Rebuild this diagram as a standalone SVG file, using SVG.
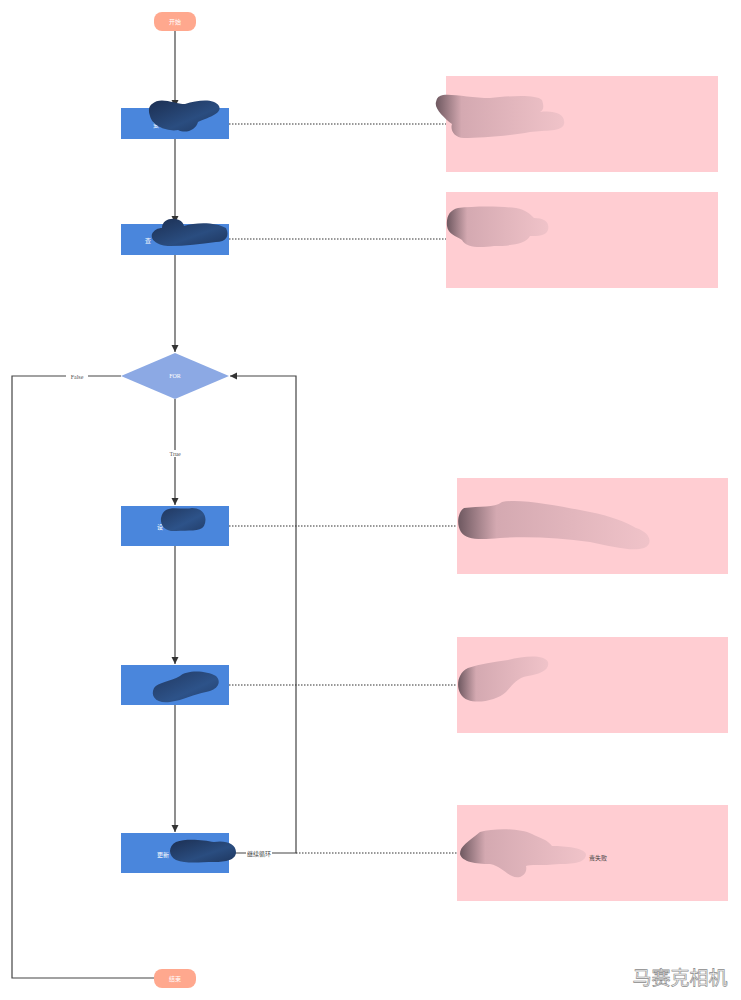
<svg xmlns="http://www.w3.org/2000/svg" width="741" height="1000" viewBox="0 0 741 1000">
<defs>
<marker id="arr" markerWidth="8" markerHeight="8" refX="7" refY="4" orient="auto" markerUnits="userSpaceOnUse">
<path d="M0,0.5 L7,4 L0,7.5 Z" fill="#333"/>
</marker>
<linearGradient id="gDark" x1="0" y1="0" x2="1" y2="1">
<stop offset="0" stop-color="#1c2f52"/>
<stop offset="0.6" stop-color="#2a4d80"/>
<stop offset="1" stop-color="#1e365e"/>
</linearGradient>
<linearGradient id="gPink" x1="0" y1="0" x2="1" y2="0">
<stop offset="0" stop-color="#6e5860"/>
<stop offset="0.2" stop-color="#d4a9b1"/>
<stop offset="1" stop-color="#f0c3c9"/>
</linearGradient>
<style>
.term{fill:#FFA88E;}
.proc{fill:#4A86DC;}
.dec{fill:#8CA9E4;}
.note{fill:#FFCDD2;}
.wt{font-family:"Noto Sans CJK SC","Liberation Sans",sans-serif;font-size:6px;fill:#ffffff;text-anchor:middle;}
.lt{font-family:"Liberation Serif",serif;font-size:6px;fill:#555;text-anchor:middle;}
.nt{font-family:"Noto Sans CJK SC","Liberation Sans",sans-serif;font-size:6px;fill:#444;}
.edge{fill:none;stroke:#444;stroke-width:1.2;}
.dot{fill:none;stroke:#333;stroke-width:1.1;stroke-dasharray:1.5,1.5;}
.blobD{fill:url(#gDark);}
.blobP{fill:url(#gPink);}
</style>
</defs>
<rect width="741" height="1000" fill="#ffffff"/>

<g id="connectors">
<path class="edge" d="M175,31 L175,107" marker-end="url(#arr)"/>
<path class="edge" d="M175,139 L175,223" marker-end="url(#arr)"/>
<path class="edge" d="M175,255 L175,352" marker-end="url(#arr)"/>
<path class="edge" d="M175,399 L175,505" marker-end="url(#arr)"/>
<path class="edge" d="M175,546 L175,664" marker-end="url(#arr)"/>
<path class="edge" d="M175,705 L175,832" marker-end="url(#arr)"/>
<path class="edge" d="M229,853 L296,853 L296,376 L230,376" marker-end="url(#arr)"/>
<path class="edge" d="M121,376 L12,376 L12,978 L154,978"/>
<path class="dot" d="M229,124 L446,124"/>
<path class="dot" d="M229,239 L446,239"/>
<path class="dot" d="M229,526 L457,526"/>
<path class="dot" d="M229,685 L457,685"/>
<path class="dot" d="M296,853 L457,853"/>
<rect x="66" y="373" width="22" height="7" fill="#ffffff"/>
<text class="lt" x="77" y="379">False</text>
<rect x="166" y="450" width="18" height="7" fill="#ffffff"/>
<text class="lt" x="175" y="456">True</text>
<rect x="246" y="850" width="26" height="7" fill="#ffffff"/>
<text class="nt" x="259" y="856" style="text-anchor:middle">继续循环</text>
</g>

<g id="start">
<rect class="term" x="154" y="12" width="42" height="19" rx="8"/>
<text class="wt" x="175" y="24">开始</text>
</g>

<g id="step1">
<rect class="proc" x="121" y="108" width="108" height="31"/>
<text class="wt" x="156" y="127">变</text>
<path class="blobD" d="M152,104 C160,96 175,104 185,104 C198,100 214,98 219,106 C223,114 206,118 198,122 C196,130 186,134 178,130 C168,132 152,126 150,116 C148,110 149,106 152,104 Z"/>
</g>

<g id="step2">
<rect class="proc" x="121" y="224" width="108" height="31"/>
<text class="wt" x="148" y="243">查</text>
<path class="blobD" d="M162,228 C162,216 182,216 184,226 C196,222 216,222 226,228 C230,236 226,242 216,242 C200,244 186,246 170,246 C158,246 150,240 152,234 C154,230 158,228 162,228 Z"/>
</g>

<g id="forLoop">
<polygon class="dec" points="175,353 229,376 175,399 121,376"/>
<text class="wt" x="175" y="378" style="font-family:'Liberation Serif',serif">FOR</text>
</g>

<g id="step3">
<rect class="proc" x="121" y="506" width="108" height="40"/>
<text class="wt" x="160" y="529">设</text>
<path class="blobD" d="M166,510 C172,506 184,510 192,508 C204,508 208,518 204,526 C200,532 188,530 176,531 C166,532 160,526 161,518 C162,514 163,512 166,510 Z" style="opacity:0.9"/>
</g>

<g id="step4">
<rect class="proc" x="121" y="665" width="108" height="40"/>
<path class="blobD" d="M180,676 C186,670 206,670 216,676 C222,682 218,690 206,692 C194,694 184,700 170,702 C156,704 150,696 154,688 C158,682 170,682 180,676 Z" style="opacity:0.9"/>
</g>

<g id="step5">
<rect class="proc" x="121" y="833" width="108" height="40"/>
<text class="wt" x="157" y="857" style="text-anchor:start">更新</text>
<path class="blobD" d="M176,842 C186,838 204,840 214,842 C226,840 236,844 236,852 C236,860 226,862 214,862 C200,862 186,864 176,860 C168,856 168,846 176,842 Z"/>
</g>

<g id="note1">
<rect class="note" x="446" y="76" width="272" height="96"/>
<text class="nt" x="450" y="122">2&gt;</text>
<path class="blobP" d="M440,96 C446,92 470,98 490,98 C510,96 536,94 542,100 C544,106 544,110 540,112 C554,110 566,114 564,124 C562,132 546,130 530,132 C510,136 480,138 464,138 C454,138 450,130 452,124 C444,118 434,108 436,102 C437,98 438,97 440,96 Z"/>
</g>

<g id="note2">
<rect class="note" x="446" y="192" width="272" height="96"/>
<path class="blobP" d="M458,208 C474,206 500,206 516,208 C526,210 530,214 534,218 C544,218 550,222 548,230 C546,236 538,236 530,236 C526,244 510,246 494,246 C480,248 466,248 462,240 C456,236 448,234 447,226 C446,216 450,210 458,208 Z"/>
</g>

<g id="note3">
<rect class="note" x="457" y="478" width="271" height="96"/>
<text class="nt" x="574" y="534">..&amp;..</text>
<path class="blobP" d="M464,508 C480,506 494,508 502,502 C520,498 560,506 590,512 C610,516 626,522 636,528 C650,532 654,544 644,548 C632,552 610,546 590,542 C560,538 530,536 500,538 C480,540 466,540 461,532 C456,524 458,512 464,508 Z"/>
</g>

<g id="note4">
<rect class="note" x="457" y="637" width="271" height="96"/>
<path class="blobP" d="M468,668 C480,664 494,662 508,660 C524,656 544,654 548,662 C550,670 540,674 528,676 C516,678 512,686 506,692 C498,700 478,704 468,700 C458,696 456,684 460,676 C462,672 464,670 468,668 Z"/>
</g>

<g id="note5">
<rect class="note" x="457" y="805" width="271" height="96"/>
<text class="nt" x="589" y="860">责失败</text>
<path class="blobP" d="M480,832 C494,828 520,828 532,834 C540,838 548,840 552,846 C566,846 584,848 586,854 C586,862 576,864 560,864 C540,866 530,864 526,866 C528,874 520,880 512,876 C504,872 500,866 490,864 C476,864 462,862 460,854 C460,846 468,842 480,832 Z"/>
</g>

<g id="end">
<rect class="term" x="154" y="969" width="42" height="19" rx="8"/>
<text class="wt" x="175" y="981">结束</text>
</g>

<text x="680" y="985" text-anchor="middle" style="font-family:'Noto Sans CJK SC',sans-serif;font-size:19px;fill:#f4f4f4;stroke:#8a8a8a;stroke-width:0.6">马赛克相机</text>
</svg>
